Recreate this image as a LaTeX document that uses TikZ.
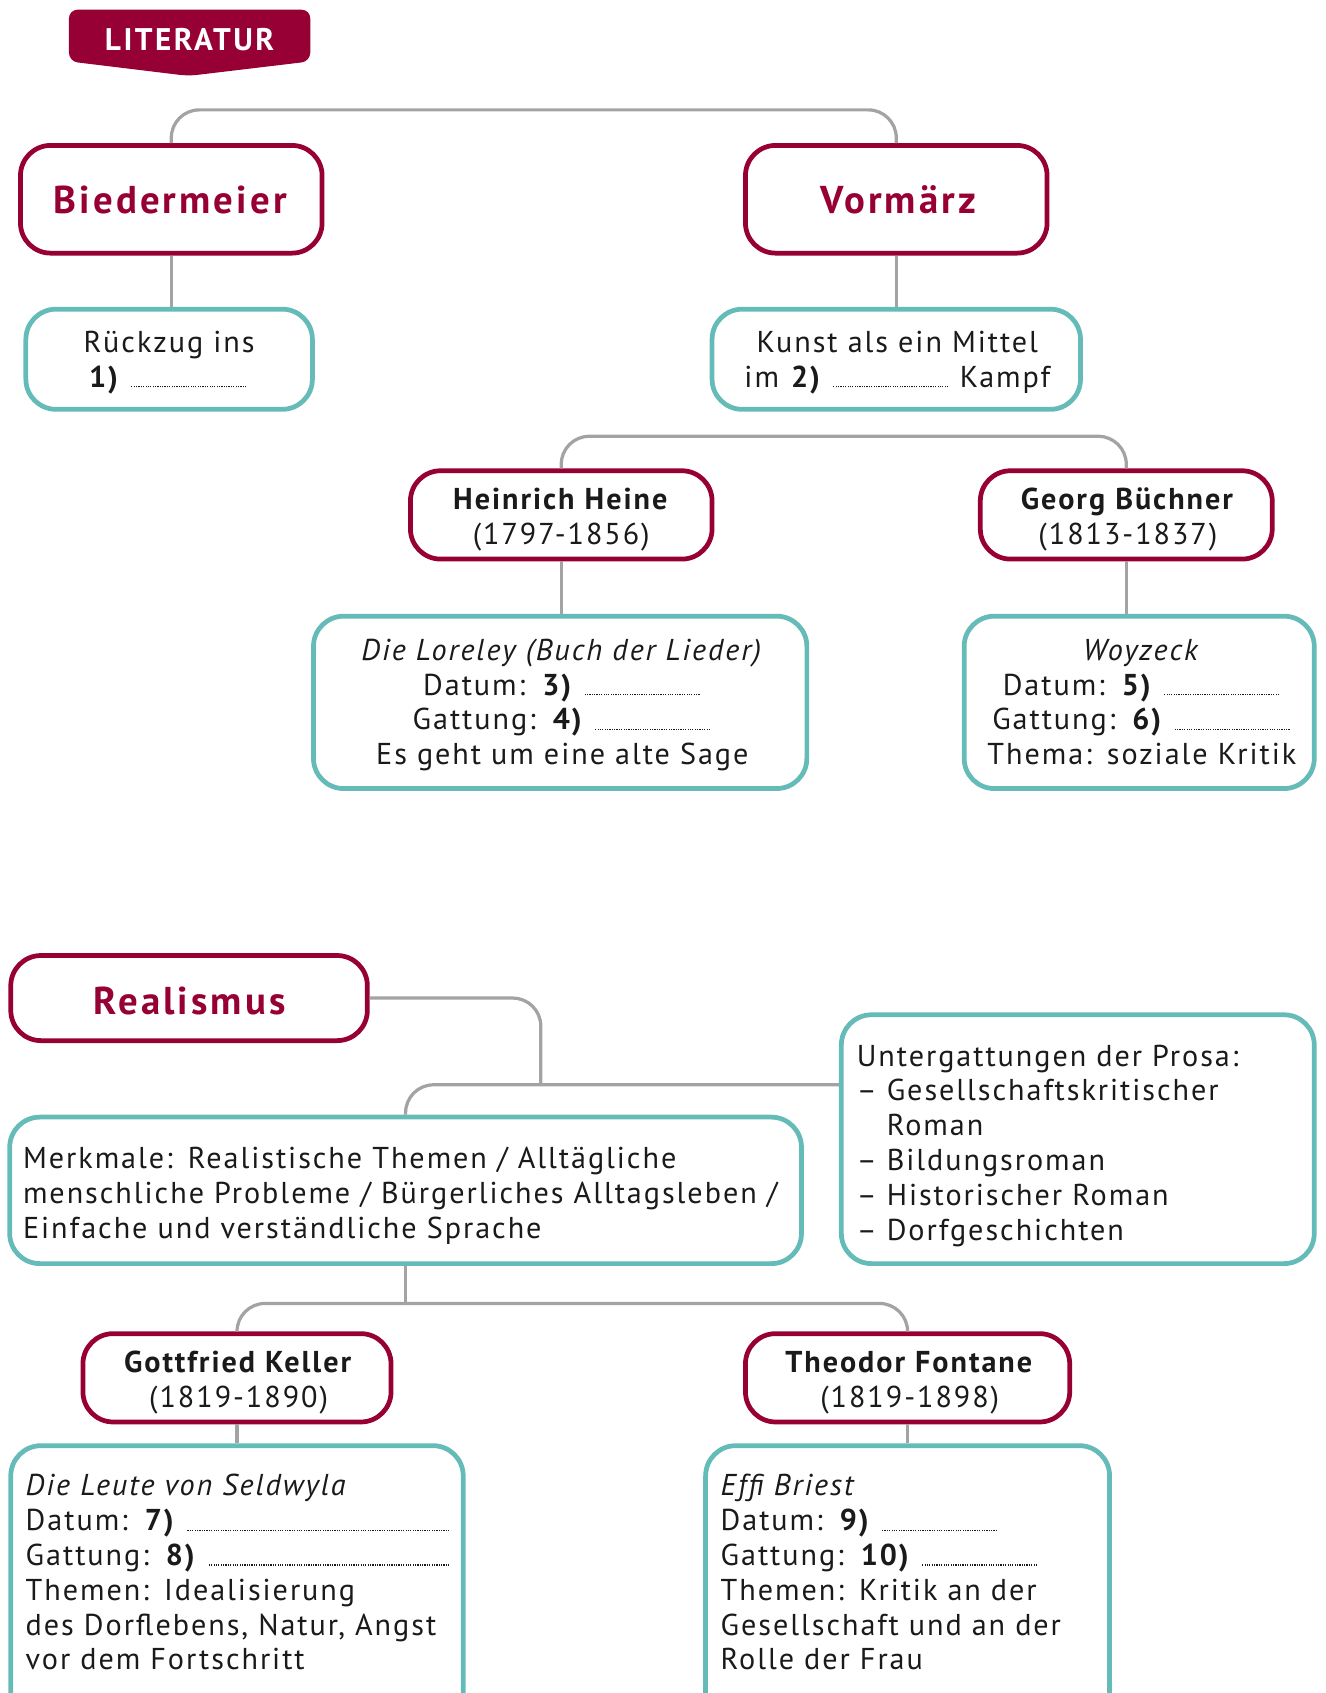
\documentclass[tikz,border=0pt]{standalone}
\usepackage{fontspec}
\setmainfont{PT Sans}[LetterSpace=6.5]
\newfontfamily\headfont{PT Sans}[LetterSpace=8]
\definecolor{crim}{HTML}{970034}
\definecolor{tealb}{HTML}{64BBB8}
\definecolor{lgray}{HTML}{A3A3A3}
\definecolor{ink}{HTML}{1A1A1A}
\newcommand\blank[1]{\hbox to #1{\leaders\hbox to 1.1pt{\hss\rule{0.55pt}{0.55pt}\hss}\hfill}}
\newcommand\blankfill{\leavevmode\leaders\hbox to 1.1pt{\hss\rule{0.55pt}{0.55pt}\hss}\hskip 0pt plus 1filll\kern0pt\null}
\tikzset{
  redbox/.style={draw=crim, line width=2.2pt, rounded corners=14pt, fill=white, inner sep=0pt},
  tealbox/.style={draw=tealb, line width=2.2pt, rounded corners=14pt, fill=white, inner sep=0pt},
  conn/.style={draw=lgray, line width=1.5pt, rounded corners=13pt},
  body/.style={inner sep=0pt, text=ink, font=\fontsize{14}{16.15}\selectfont},
  ctext/.style={body, anchor=base, align=center, text width=#1},
  ltext/.style={body, anchor=base west, align=left, text width=#1},
  headtext/.style={inner sep=0pt, anchor=base, text=crim, font=\headfont\bfseries\fontsize{18}{20}\selectfont},
}
\begin{document}
\begin{tikzpicture}[x=0.5pt, y=-0.5pt]
\clip (0,0) rectangle (1230,1571.6);
% banner
\fill[crim, rounded corners=4pt] (64,9) -- (288,9) -- (288,57) -- (175,70.5) -- (64,57) -- cycle;
\node[inner sep=0pt, anchor=base, text=white, font=\headfont\bfseries\fontsize{14.5}{17}\selectfont] (banner) at (176,46.5) {LITERATUR};
% boxes
\node[redbox, minimum width=140pt, minimum height=50pt] (bied) at (159,185) {};
\node[redbox, minimum width=140pt, minimum height=50pt] (vor) at (832,185) {};
\node[tealbox, minimum width=133pt, minimum height=46.5pt] (rueck) at (157,333.5) {};
\node[tealbox, minimum width=171pt, minimum height=46.5pt] (kunst) at (832,333.5) {};
\node[redbox, minimum width=140pt, minimum height=41pt] (heine) at (521,478) {};
\node[redbox, minimum width=135.5pt, minimum height=41pt] (buech) at (1045.5,478) {};
\node[tealbox, minimum width=229pt, minimum height=80pt] (lore) at (520,652) {};
\node[tealbox, minimum width=162.5pt, minimum height=80pt] (woy) at (1057.5,652) {};
\node[redbox, minimum width=165.5pt, minimum height=39.5pt] (real) at (175.5,926.5) {};
\node[tealbox, minimum width=367.5pt, minimum height=68pt] (merk) at (376.5,1105) {};
\node[tealbox, minimum width=219.5pt, minimum height=115.5pt] (unter) at (1000.5,1057.5) {};
\node[redbox, minimum width=143pt, minimum height=41pt] (kel) at (220,1279) {};
\node[redbox, minimum width=150.5pt, minimum height=41pt] (fon) at (842.5,1279) {};
\node[tealbox, minimum width=210pt, minimum height=133pt] (leute) at (220,1475) {};
\node[tealbox, minimum width=187.5pt, minimum height=133pt] (effi) at (842.5,1475) {};
% junction coordinates
\coordinate (topbar) at (0,102);
\coordinate (hbbar) at (0,405);
\coordinate (rj) at (502,1007);
\coordinate (kfbar) at (0,1210);
% connectors
\draw[conn] (bied.north) |- (vor.north |- topbar) -- (vor.north);
\draw[conn] (bied.south) -- (bied.south |- rueck.north);
\draw[conn] (vor.south) -- (vor.south |- kunst.north);
\draw[conn] (heine.north) |- (buech.north |- hbbar) -- (buech.north);
\draw[conn] (heine.south) -- (heine.south |- lore.north);
\draw[conn] (buech.south) -- (buech.south |- woy.north);
\draw[conn] (real.east) -| (rj);
\draw[conn] (merk.north) |- (unter.west |- rj);
\draw[conn] (merk.south) -- (merk.south |- kfbar);
\draw[conn] (kel.north) |- (fon.north |- kfbar) -- (fon.north);
\draw[conn] (kel.south) -- (kel.south |- leute.north);
\draw[conn] (fon.south) -- (fon.south |- effi.north);
% texts
\node[headtext] (biedt) at (158,198) {Biedermeier};
\node[headtext] (vort) at (834,198) {Vormärz};
\node[headtext] (realt) at (176,941.3) {Realismus};
\node[ctext=150pt] (rueckt) at (157,327.4) {Rückzug ins\\\textbf{1)}\hspace{5pt}\blank{55pt}};
\node[ctext=200pt] (kunstt) at (833,327.4) {Kunst als ein Mittel\\im \textbf{2)}\hspace{5pt}\blank{54pt}\hspace{5pt}Kampf};
\node[ctext=160pt] (heinet) at (521,472.8) {\textbf{Heinrich Heine}\\(1797-1856)};
\node[ctext=160pt] (buecht) at (1047,472.8) {\textbf{Georg Büchner}\\(1813-1837)};
\node[ctext=240pt] (loret) at (522,613) {\textit{Die Loreley (Buch der Lieder)}\\Datum: \textbf{3)}\hspace{5pt}\blank{54.5pt}\\Gattung: \textbf{4)}\hspace{5pt}\blank{54.5pt}\\Es geht um eine alte Sage};
\node[ctext=200pt] (woyt) at (1060,613) {\textit{Woyzeck}\\Datum: \textbf{5)}\hspace{5pt}\blank{54.5pt}\\Gattung: \textbf{6)}\hspace{5pt}\blank{54.5pt}\\Thema: soziale Kritik};
\node[ltext=360pt] (merkt) at (21,1085) {Merkmale: Realistische Themen / Alltägliche\\menschliche Probleme / Bürgerliches Alltagsleben /\\Einfache und verständliche Sprache};
\node[ltext=210pt] (untert) at (795,989.6) {Untergattungen der Prosa:\\– Gesellschaftskritischer\\\phantom{– }Roman\\– Bildungsroman\\– Historischer Roman\\– Dorfgeschichten};
\node[ctext=170pt] (kelt) at (221.5,1274) {\textbf{Gottfried Keller}\\(1819-1890)};
\node[ctext=170pt] (fontt) at (844.5,1274) {\textbf{Theodor Fontane}\\(1819-1898)};
\node[ltext=198pt] (leutet) at (23.5,1388.7) {\textit{Die Leute von Seldwyla}\\Datum: \textbf{7)}\hspace{5pt}\blankfill\\Gattung: \textbf{8)}\hspace{5pt}\blankfill\\Themen: Idealisierung\\des Dorflebens, Natur, Angst\\vor dem Fortschritt};
\node[ltext=190pt] (effit) at (668.6,1388.7) {\textit{Effi Briest}\\Datum: \textbf{9)}\hspace{5pt}\blank{55pt}\\Gattung: \textbf{10)}\hspace{5pt}\blank{55pt}\\Themen: Kritik an der\\Gesellschaft und an der\\Rolle der Frau};
\end{tikzpicture}
\end{document}
